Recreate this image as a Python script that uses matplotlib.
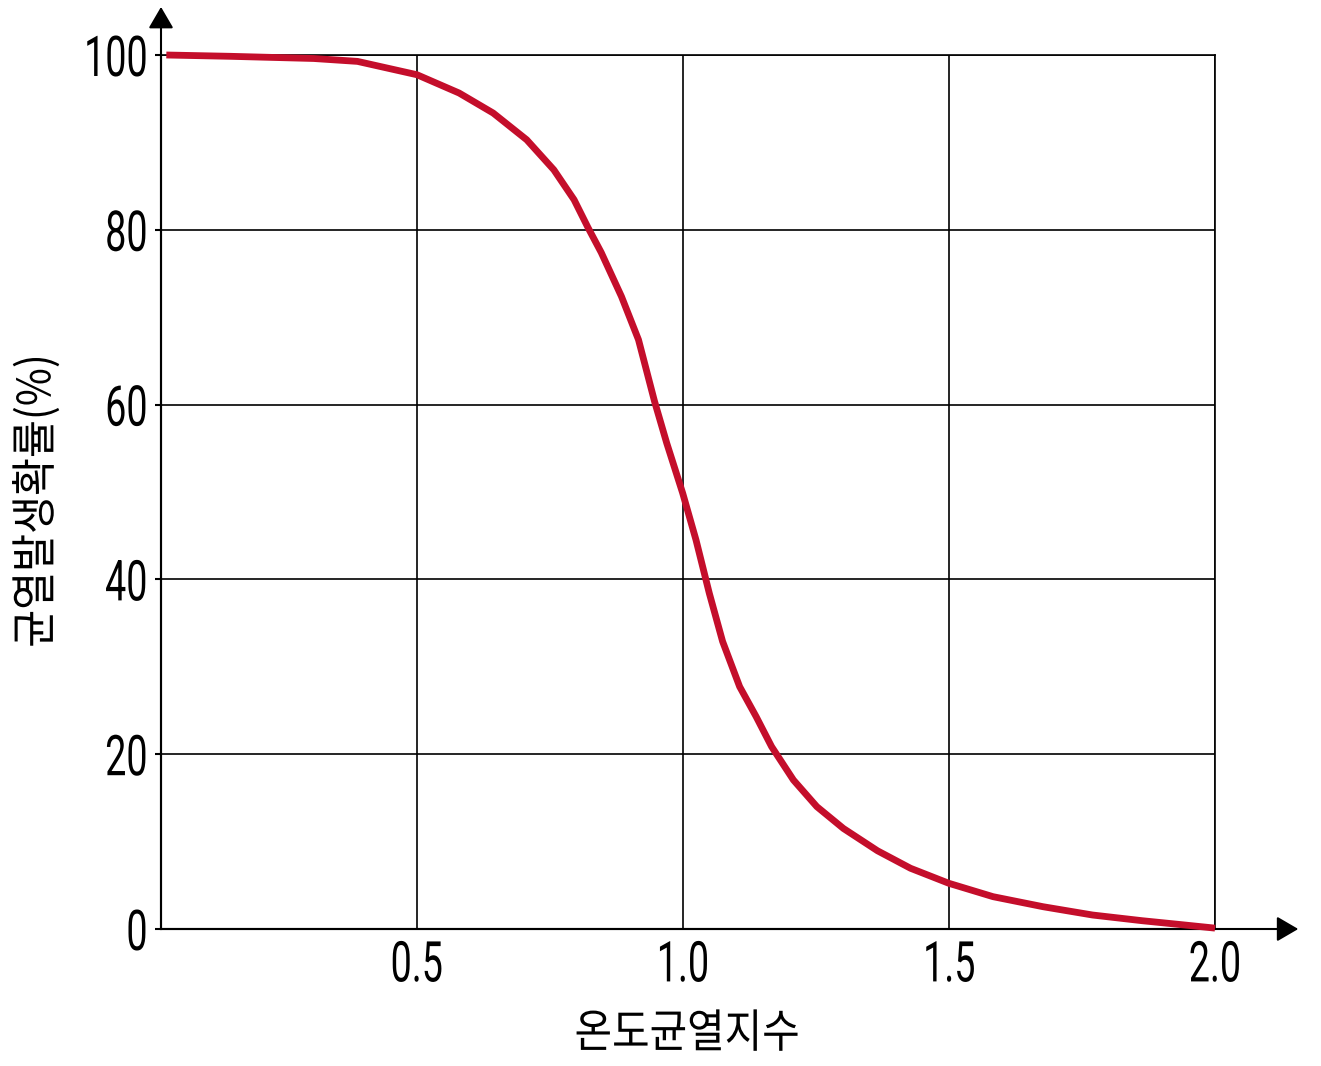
import numpy as np
import matplotlib
matplotlib.use("Agg")
import matplotlib.pyplot as plt
from matplotlib.patheffects import AbstractPathEffect
from matplotlib.transforms import Affine2D

# 온도균열지수 - 균열발생확률 곡선
crack_index = [0.03, 0.15, 0.307, 0.389, 0.501, 0.580, 0.644, 0.707, 0.758, 0.796,
               0.822, 0.847, 0.885, 0.917, 0.947, 0.970, 1.0, 1.025, 1.050, 1.075,
               1.107, 1.138, 1.167, 1.208, 1.252, 1.302, 1.366, 1.428, 1.5, 1.583,
               1.677, 1.770, 1.863, 1.925, 2.0]
crack_prob = [100, 99.85, 99.6, 99.27, 97.74, 95.65, 93.36, 90.30, 86.86, 83.44,
              80.27, 77.4, 72.37, 67.42, 60.4, 55.6, 49.87, 44.52, 38.42, 32.9,
              27.73, 24.30, 20.87, 17.05, 14.00, 11.5, 8.95, 6.95, 5.23, 3.70,
              2.55, 1.60, 0.95, 0.57, 0.1]

x_ticks = [0.5, 1.0, 1.5, 2.0]
x_tick_labels = ["0.5", "1.0", "1.5", "2.0"]
y_ticks = [0, 20, 40, 60, 80, 100]
y_tick_labels = ["0", "20", "40", "60", "80", "100"]

xlabel = "온도균열지수"
ylabel = "균열발생확률(%)"

num_font = "Roboto"
kr_font = ["Noto Sans CJK KR", "DejaVu Sans"]


class Squeeze(AbstractPathEffect):
    """글자를 좁게 그리기 (condensed 글꼴 흉내)"""

    def __init__(self, s, anchor="center", axis="x"):
        super().__init__()
        self.s = s
        self.anchor = anchor
        self.axis = axis

    def draw_path(self, renderer, gc, tpath, affine, rgbFace=None):
        bb = tpath.get_extents(affine)
        if self.axis == "x":
            c = {"center": (bb.x0 + bb.x1) / 2, "right": bb.x1, "left": bb.x0}[self.anchor]
            t = affine + Affine2D().translate(-c, 0).scale(self.s, 1).translate(c, 0)
        else:
            c = (bb.y0 + bb.y1) / 2
            t = affine + Affine2D().translate(0, -c).scale(1, self.s).translate(0, c)
        renderer.draw_path(gc, tpath, t, rgbFace)


fig = plt.figure(figsize=(13.21, 10.66), dpi=100)
ax = fig.add_axes([161 / 1321, 1 - 929 / 1066, (1215 - 161) / 1321, (929 - 55) / 1066])

ax.plot(crack_index, crack_prob, color="#C40E2B", lw=4.9, solid_capstyle="butt",
        solid_joinstyle="round", clip_on=False, zorder=5)

ax.set_xlim(0.02, 2.0)
ax.set_ylim(0, 100)

ax.set_xticks(x_ticks)
ax.set_xticklabels(x_tick_labels, fontfamily=num_font, fontsize=40.5,
                   path_effects=[Squeeze(0.67, "center")])
ax.set_yticks(y_ticks)
ax.set_yticklabels(y_tick_labels, fontfamily=num_font, fontsize=40.5,
                   path_effects=[Squeeze(0.67, "right")])
ax.tick_params(axis="x", length=0, pad=7.5)
ax.tick_params(axis="y", length=4, width=1.5, pad=5, color="k")

ax.grid(True, color="k", lw=1.2)
ax.set_axisbelow(True)

for s in ["top", "right"]:
    ax.spines[s].set_linewidth(1.2)
for s in ["left", "bottom"]:
    ax.spines[s].set_linewidth(1.5)

# 축 화살표
arr = dict(arrowstyle="-|>,head_length=0.6,head_width=0.35", color="k", lw=1.5,
           mutation_scale=22, shrinkA=0, shrinkB=0)
ax.annotate("", xy=(1.079, 0), xytext=(0, 0), xycoords="axes fraction",
            arrowprops=arr, annotation_clip=False)
ax.annotate("", xy=(0, 1.055), xytext=(0, 0), xycoords="axes fraction",
            arrowprops=arr, annotation_clip=False)

fig.text(687 / 1321, 1 - 1034 / 1066, xlabel, family=kr_font, fontsize=33,
         ha="center", va="center", path_effects=[Squeeze(0.89, "center")])
fig.text(37 / 1321, 1 - 501 / 1066, ylabel, family=kr_font, fontsize=33,
         ha="center", va="center", rotation=90,
         path_effects=[Squeeze(0.9, axis="y")])

fig.savefig("out.png", dpi=100)
